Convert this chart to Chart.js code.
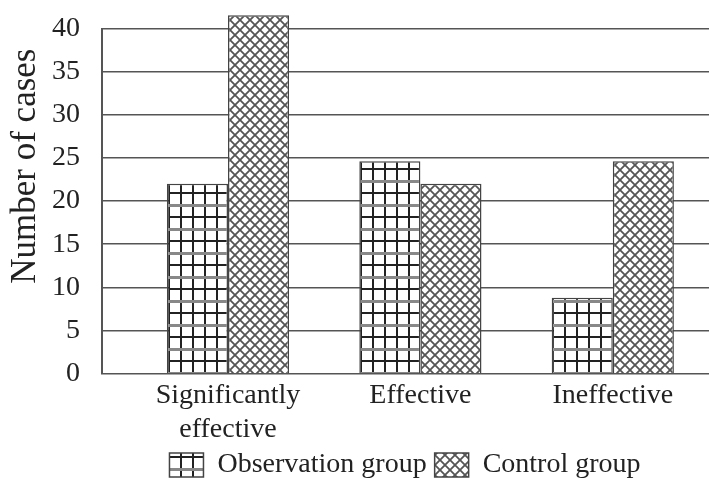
<!DOCTYPE html>
<html>
<head>
<meta charset="utf-8">
<script src="https://cdn.jsdelivr.net/npm/chart.js@4"></script>
<style>
  html, body { margin: 0; padding: 0; background: #fff; }
  #wrap { width: 709px; height: 481px; }
</style>
</head>
<body>
<div id="wrap"><canvas id="myChart" width="709" height="481"></canvas></div>
<script>
const categories = [["Significantly", "effective"], "Effective", "Ineffective"];
const observation = [22, 24.6, 8.8];
const control = [41.5, 22, 24.6];
const yTicks = [0, 5, 10, 15, 20, 25, 30, 35, 40];

// hatch fills
const makePattern = (w, h, draw) => {
  const c = document.createElement("canvas");
  c.width = w;
  c.height = h;
  const ctx = c.getContext("2d");
  ctx.fillStyle = "#fff";
  ctx.fillRect(0, 0, w, h);
  draw(ctx);
  return ctx.createPattern(c, "repeat");
};
const gridFill = makePattern(12, 24, (ctx) => {
  ctx.fillStyle = "#222";
  ctx.fillRect(0, 0, 2, 24);
  ctx.fillRect(0, 0, 12, 2);
  ctx.fillStyle = "#888";
  ctx.fillRect(0, 12, 12, 3);
});
const crossFill = makePattern(10, 10, (ctx) => {
  ctx.strokeStyle = "#555";
  ctx.lineWidth = 1.8;
  ctx.beginPath();
  ctx.moveTo(-1, -1); ctx.lineTo(11, 11);
  ctx.moveTo(11, -1); ctx.lineTo(-1, 11);
  ctx.stroke();
});

const font = "'Liberation Serif', 'DejaVu Serif', serif";

const yAxisLine = {
  id: "yAxisLine",
  afterDraw(chart) {
    const y = chart.scales.y;
    const ctx = chart.ctx;
    ctx.save();
    ctx.strokeStyle = "#555";
    ctx.lineWidth = 2;
    ctx.beginPath();
    ctx.moveTo(chart.chartArea.left + 1, y.getPixelForValue(0));
    ctx.lineTo(chart.chartArea.left + 1, y.getPixelForValue(40));
    ctx.stroke();
    ctx.restore();
  },
};

const chartElement = document.getElementById("myChart");
const myChart = new Chart(chartElement, {
  type: "bar",
  data: {
    datasets: [
      {
        label: "Observation group",
        data: categories.map((c, i) => ({ x: i, y: observation[i] })),
        backgroundColor: gridFill,
        borderColor: "#444",
        borderWidth: 1.5,
      },
      {
        label: "Control group",
        data: categories.map((c, i) => ({ x: i, y: control[i] })),
        backgroundColor: crossFill,
        borderColor: "#444",
        borderWidth: 1.5,
      },
    ],
  },
  options: {
    responsive: false,
    animation: false,
    categoryPercentage: 0.635,
    barPercentage: 1,
    layout: { padding: { top: 11, right: 0, bottom: -8, left: 0 } },
    plugins: {
      tooltip: { enabled: false },
      legend: {
        position: "bottom",
        fullSize: false,
        labels: {
          color: "#222",
          font: { family: font, size: 28 },
          boxWidth: 34,
          boxHeight: 24,
          padding: 8,
        },
      },
    },
    scales: {
      x: {
        type: "linear",
        offset: false,
        min: -0.66,
        max: 2.5,
        grid: { display: false },
        border: { display: false },
        afterBuildTicks: (scale) => {
          scale.ticks = categories.map((c, i) => ({ value: i }));
        },
        ticks: {
          autoSkip: false,
          maxRotation: 0,
          padding: -3,
          color: "#222",
          font: { family: font, size: 28, lineHeight: 1.2 },
          callback: (v) => categories[v],
        },
      },
      y: {
        min: 0,
        max: 42,
        afterBuildTicks: (scale) => {
          scale.ticks = yTicks.map((v) => ({ value: v }));
        },
        afterFit: (scale) => {
          scale.width = 101;
          scale.paddingTop = 0;
          scale.paddingBottom = 0;
        },
        grid: { color: "#555", lineWidth: 1.5, drawTicks: false },
        border: { display: false },
        ticks: {
          padding: 21,
          color: "#222",
          font: { family: font, size: 28 },
        },
        title: {
          display: true,
          text: "      Number of cases",
          color: "#222",
          font: { family: font, size: 35 },
          padding: { top: 5, bottom: 0 },
        },
      },
    },
  },
  plugins: [yAxisLine],
});
</script>
</body>
</html>
